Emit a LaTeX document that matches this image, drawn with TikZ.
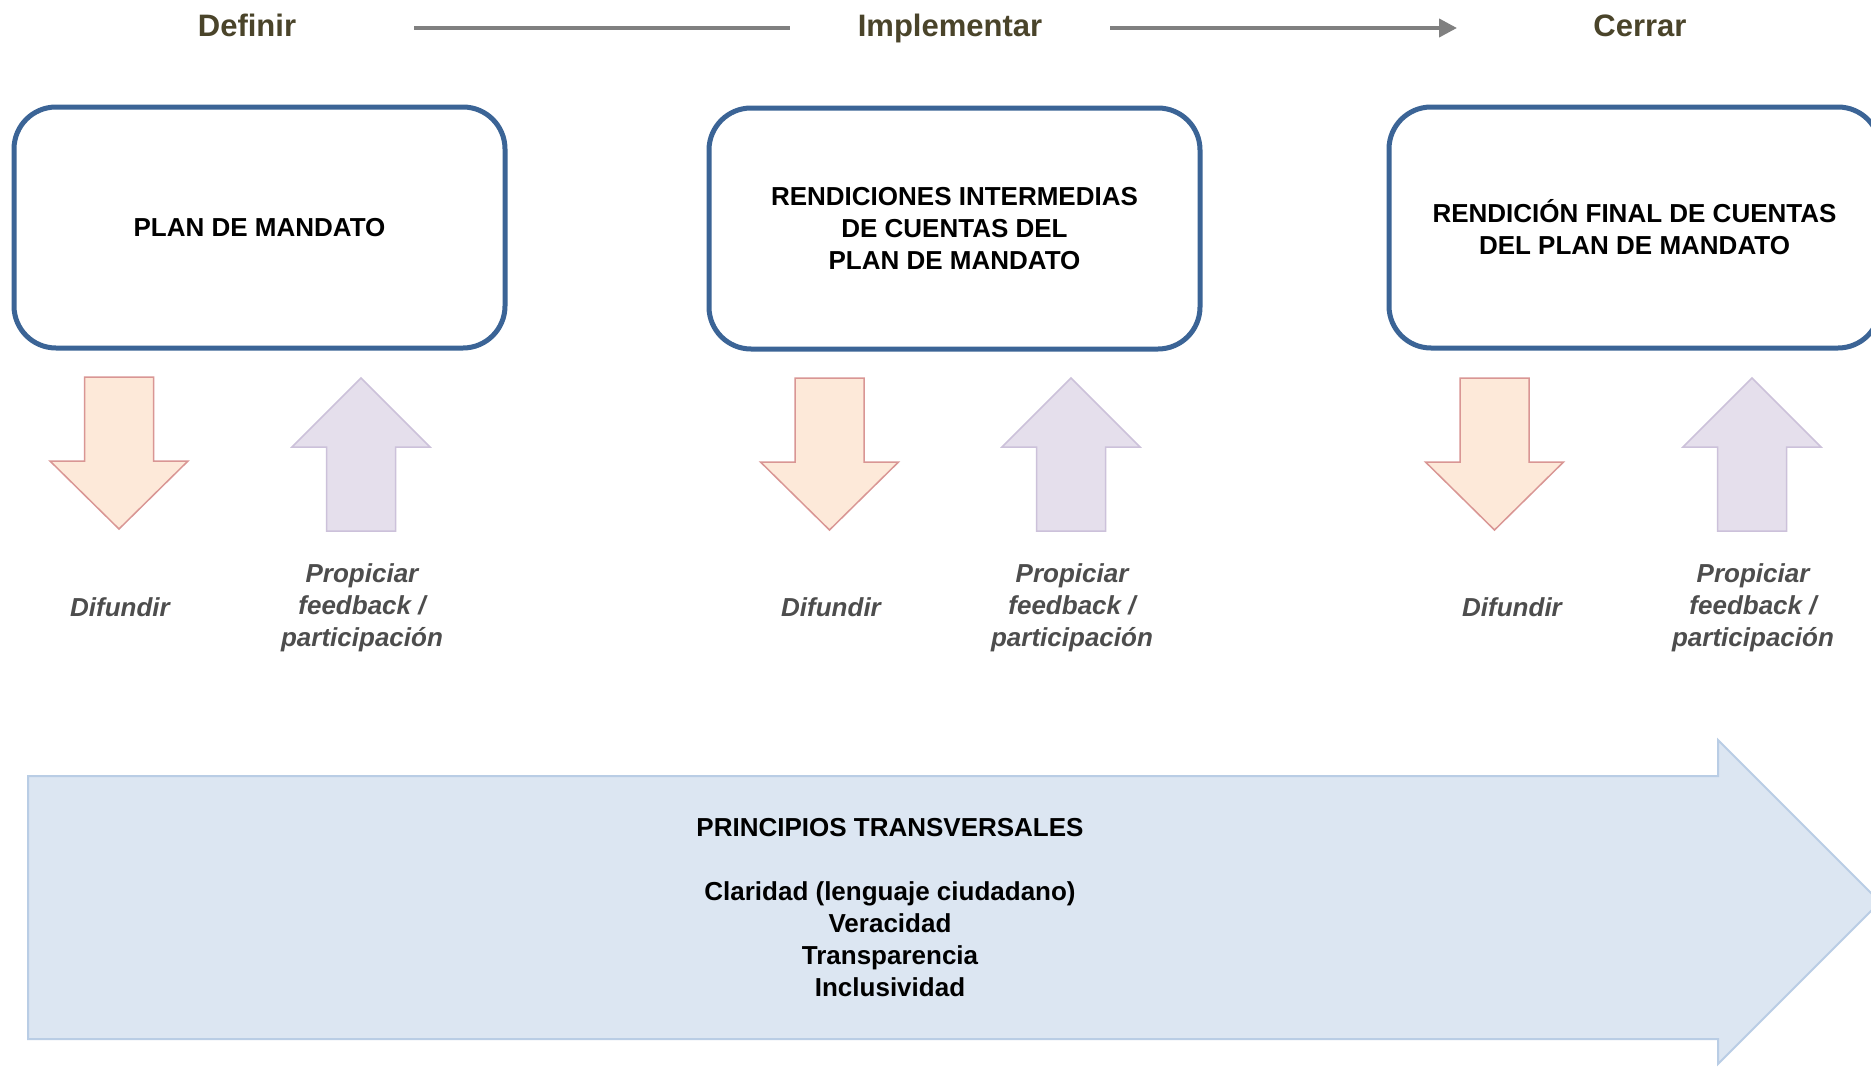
\documentclass[tikz,border=0pt]{standalone}
\usepackage{fontspec}
\setmainfont{Liberation Sans}
\usetikzlibrary{arrows.meta}
\definecolor{titlecol}{HTML}{4A442A}
\definecolor{boxblue}{HTML}{3B6496}
\definecolor{greyline}{HTML}{808080}
\definecolor{peachfill}{HTML}{FDE9D9}
\definecolor{peachdraw}{HTML}{D99694}
\definecolor{lilacfill}{HTML}{E5DFEC}
\definecolor{lilacdraw}{HTML}{CCC1DA}
\definecolor{bigfill}{HTML}{DCE6F2}
\definecolor{bigdraw}{HTML}{B9CDE5}
\definecolor{labelgrey}{HTML}{4D4D4D}
\tikzset{
  phasetitle/.style={anchor=base, text=titlecol, font=\fontsize{31pt}{36pt}\selectfont\bfseries, inner sep=0pt},
  topline/.style={draw=greyline, line width=4pt},
  mainbox/.style={draw=boxblue, line width=5pt, rounded corners=42pt, fill=white,
    minimum width=491pt, minimum height=241pt, align=center, inner sep=0pt,
    font=\fontsize{26pt}{32pt}\selectfont\bfseries},
  actlabel/.style={text=labelgrey, align=center, inner sep=0pt,
    font=\fontsize{26pt}{32pt}\selectfont\bfseries\itshape},
  downstyle/.style={fill=peachfill, draw=peachdraw, line width=1.5pt},
  upstyle/.style={fill=lilacfill, draw=lilacdraw, line width=1.5pt},
  downarrow/.pic={\path[downstyle] (-34.5,0) -- (34.5,0) -- (34.5,84) -- (69,84) -- (0,152) -- (-69,84) -- (-34.5,84) -- cycle;},
  uparrow/.pic={\path[upstyle] (0,0) -- (69,69) -- (34.5,69) -- (34.5,153) -- (-34.5,153) -- (-34.5,69) -- (-69,69) -- cycle;},
  bigtext/.style={align=center, inner sep=0pt, font=\fontsize{26pt}{32pt}\selectfont\bfseries}
}
\begin{document}
\begin{tikzpicture}[x=1pt, y=-1pt]
\useasboundingbox (0,0) rectangle (1871,1073);
\clip (0,0) rectangle (1871,1073);
\fill[white] (0,0) rectangle (1871,1073);

% phase titles
\node[phasetitle] (t1) at (247,37) {Definir};
\node[phasetitle] (t2) at (950,37) {Implementar};
\node[phasetitle] (t3) at (1640,37) {Cerrar};
\coordinate (l1a) at (414,28);
\coordinate (l1b) at (790,28);
\coordinate (l2a) at (1110,28);
\coordinate (l2b) at (1457,28);
\draw[topline] (l1a) -- (l1b);
\draw[topline, -{Triangle[length=18pt,width=18pt]}] (l2a) -- (l2b);

% main boxes
\node[mainbox] (b1) at (259.5,227.5) {PLAN DE MANDATO};
\node[mainbox] (b2) at (954.5,228.5) {RENDICIONES INTERMEDIAS\\DE CUENTAS DEL\\PLAN DE MANDATO};
\node[mainbox] (b3) at (1634.5,227.5) {RENDICIÓN FINAL DE CUENTAS\\DEL PLAN DE MANDATO};

% arrows
\pic at (119,377) {downarrow};
\pic at (361,378) {uparrow};
\pic at (829.5,378) {downarrow};
\pic at (1071,378) {uparrow};
\pic at (1494.5,378) {downarrow};
\pic at (1752,378) {uparrow};

% labels
\node[actlabel] (d1) at (120,607) {Difundir};
\node[actlabel] (p1) at (362,608) {Propiciar\\feedback /\\participación};
\node[actlabel] (d2) at (831,607) {Difundir};
\node[actlabel] (p2) at (1072,608) {Propiciar\\feedback /\\participación};
\node[actlabel] (d3) at (1512,607) {Difundir};
\node[actlabel] (p3) at (1753,608) {Propiciar\\feedback /\\participación};

% big arrow
\path[fill=bigfill, draw=bigdraw, line width=2pt]
  (28,776) -- (1718,776) -- (1718,740) -- (1880,902) -- (1718,1064) -- (1718,1039) -- (28,1039) -- cycle;
\node[bigtext] (pr) at (890,908) {PRINCIPIOS TRANSVERSALES\\[32pt]Claridad (lenguaje ciudadano)\\Veracidad\\Transparencia\\Inclusividad};
\end{tikzpicture}
\end{document}
